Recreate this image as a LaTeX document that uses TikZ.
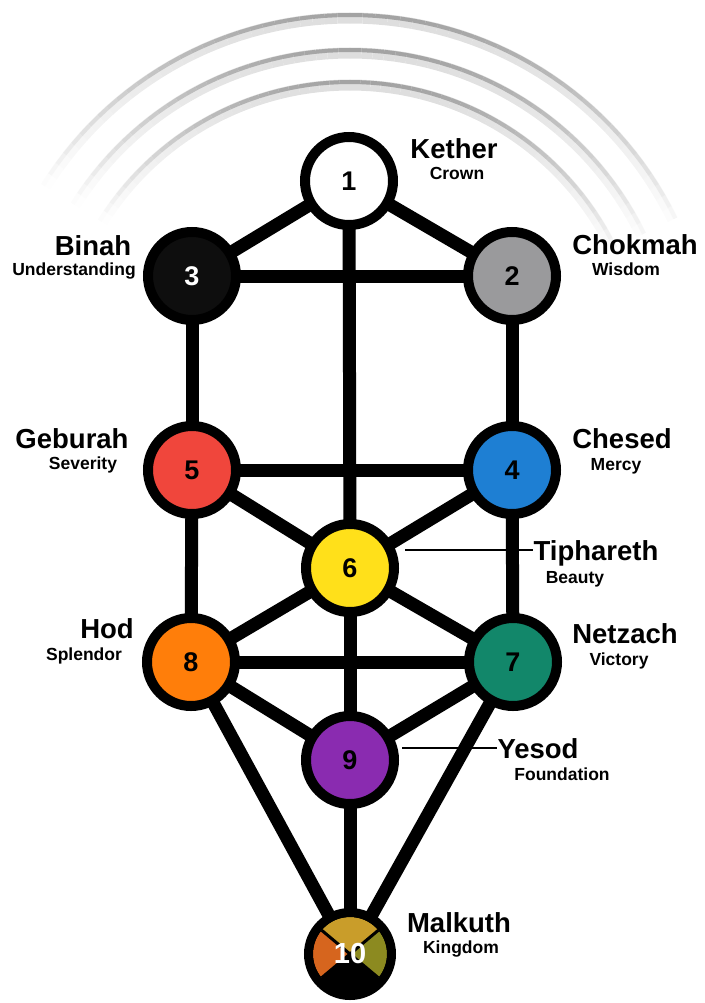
\documentclass[tikz,border=0pt]{standalone}
\usepackage{fontspec}
\setmainfont{Liberation Sans}
\usepackage{tikz}
\usetikzlibrary{backgrounds}
\definecolor{binahblk}{HTML}{0E0E0E}
\definecolor{chokgray}{HTML}{9A9A9C}
\definecolor{gebred}{HTML}{F0463C}
\definecolor{chesblue}{HTML}{1E7FD3}
\definecolor{tiphyel}{HTML}{FFE01A}
\definecolor{hodorange}{HTML}{FF7E0A}
\definecolor{netzgreen}{HTML}{12876A}
\definecolor{yespurple}{HTML}{8A2BB0}
\definecolor{malkgold}{HTML}{C99D2A}
\definecolor{malkruss}{HTML}{D6651E}
\definecolor{malkolive}{HTML}{8C8A20}

\begin{document}
\begin{tikzpicture}[
  x=1pt,y=-1pt,
  every node/.style={font=\bfseries},
  sefira/.style={circle,draw=black,line width=10pt,minimum size=88pt,inner sep=0pt,
    font=\fontsize{27}{27}\selectfont\bfseries},
  lbl/.style={inner sep=0pt,anchor=base,font=\fontsize{27.5}{30}\selectfont\bfseries},
  sublbl/.style={inner sep=0pt,anchor=base,font=\fontsize{17.5}{20}\selectfont\bfseries},
  bar/.style={line width=13pt,draw=black},
  tick/.style={line width=2.5pt,draw=black},
  malk/.style={sefira,minimum size=83pt,line width=9pt,fill=black,text=white,
    font=\fontsize{29}{29}\selectfont\bfseries,
    path picture={
      \path (path picture bounding box.center) coordinate (mc);
      \fill[malkgold] (mc) -- ++(40:37pt) arc[start angle=40,end angle=140,radius=37pt] -- cycle;
      \fill[malkruss] (mc) -- ++(140:37pt) arc[start angle=140,end angle=220,radius=37pt] -- cycle;
      \fill[malkolive] (mc) -- ++(320:37pt) arc[start angle=320,end angle=400,radius=37pt] -- cycle;
      \draw[line width=3pt] (mc) -- ++(40:37pt) (mc) -- ++(140:37pt)
        (mc) -- ++(220:37pt) (mc) -- ++(320:37pt);
    }}
]
\useasboundingbox (0,0) rectangle (704,1003);

% the ten spheres
\node[sefira,fill=white] (s1) at (349,181) {1};
\node[sefira,fill=chokgray] (s2) at (512,276) {2};
\node[sefira,fill=binahblk,text=white] (s3) at (192,276) {3};
\node[sefira,fill=chesblue] (s4) at (512,470) {4};
\node[sefira,fill=gebred] (s5) at (192,470) {5};
\node[sefira,fill=tiphyel] (s6) at (350,568) {6};
\node[sefira,fill=netzgreen] (s7) at (513,662) {7};
\node[sefira,fill=hodorange] (s8) at (191,662) {8};
\node[sefira,fill=yespurple] (s9) at (350,760) {9};
\node[malk] (s10) at (350,954) {10};

% names
\node[lbl] (kether) at (454,159) {Kether};
\node[sublbl] (crown) at (457,179) {Crown};
\node[lbl] (chokmah) at (635,254) {Chokmah};
\node[sublbl] (wisdom) at (626,275) {Wisdom};
\node[lbl] (binah) at (93,255) {Binah};
\node[sublbl] (underst) at (74,275) {Understanding};
\node[lbl] (chesed) at (622,448) {Chesed};
\node[sublbl] (mercy) at (616,470) {Mercy};
\node[lbl] (geburah) at (72,448) {Geburah};
\node[sublbl] (severity) at (83,469) {Severity};
\node[lbl] (tiphareth) at (596,560) {Tiphareth};
\node[sublbl] (beauty) at (575,583) {Beauty};
\node[lbl] (netzach) at (625,643) {Netzach};
\node[sublbl] (victory) at (619,665) {Victory};
\node[lbl] (hod) at (107,638) {Hod};
\node[sublbl] (splendor) at (84,660) {Splendor};
\node[lbl] (yesod) at (538,758) {Yesod};
\node[sublbl] (foundation) at (562,780) {Foundation};
\node[lbl] (malkuth) at (459,932) {Malkuth};
\node[sublbl] (kingdom) at (461,953) {Kingdom};

% pointer lines
\coordinate (tipend) at (405,550);
\coordinate (yesend) at (402,748);
\draw[tick] (tipend) -- (tipend -| tiphareth.west);
\draw[tick] (yesend) -- (yesend -| yesod.west);

\begin{scope}[on background layer]
  % rings behind the tree, fading towards their ends
  \foreach \r in {362,327,295}{
    \foreach \a in {26,28,...,146}{
      \pgfmathsetmacro\lt{13*max(0,1-((\a+1-86)/62)*((\a+1-86)/62))}
      \draw[line width=11pt,draw=black!\lt] ({350+(\r-3)*cos(\a)},{377-(\r-3)*sin(\a)})
        -- ({350+(\r-3)*cos(\a+2)},{377-(\r-3)*sin(\a+2)});
    }
  }
  \foreach \r in {362,327,295}{
    \foreach \a in {26,28,...,146}{
      \pgfmathsetmacro\dk{36*max(0,1-((\a+1-86)/62)*((\a+1-86)/62))}
      \draw[line width=4pt,draw=black!\dk] ({350+\r*cos(\a)},{377-\r*sin(\a)})
        -- ({350+\r*cos(\a+2)},{377-\r*sin(\a+2)});
    }
  }
  % paths
  \draw[bar] (s1.center) -- (s2.center);
  \draw[bar] (s1.center) -- (s3.center);
  \draw[bar] (s1.center) -- (s6.center);
  \draw[bar] (s2.center) -- (s3.center);
  \draw[bar] (s2.center) -- (s4.center);
  \draw[bar] (s3.center) -- (s5.center);
  \draw[bar] (s4.center) -- (s5.center);
  \draw[bar] (s4.center) -- (s6.center);
  \draw[bar] (s5.center) -- (s6.center);
  \draw[bar] (s4.center) -- (s7.center);
  \draw[bar] (s5.center) -- (s8.center);
  \draw[bar] (s6.center) -- (s7.center);
  \draw[bar] (s6.center) -- (s8.center);
  \draw[bar] (s6.center) -- (s9.center);
  \draw[bar] (s7.center) -- (s8.center);
  \draw[bar] (s7.center) -- (s9.center);
  \draw[bar] (s8.center) -- (s9.center);
  \draw[bar] (s7.center) -- (s10.center);
  \draw[bar] (s8.center) -- (s10.center);
  \draw[bar] (s9.center) -- (s10.center);
\end{scope}
\end{tikzpicture}
\end{document}
